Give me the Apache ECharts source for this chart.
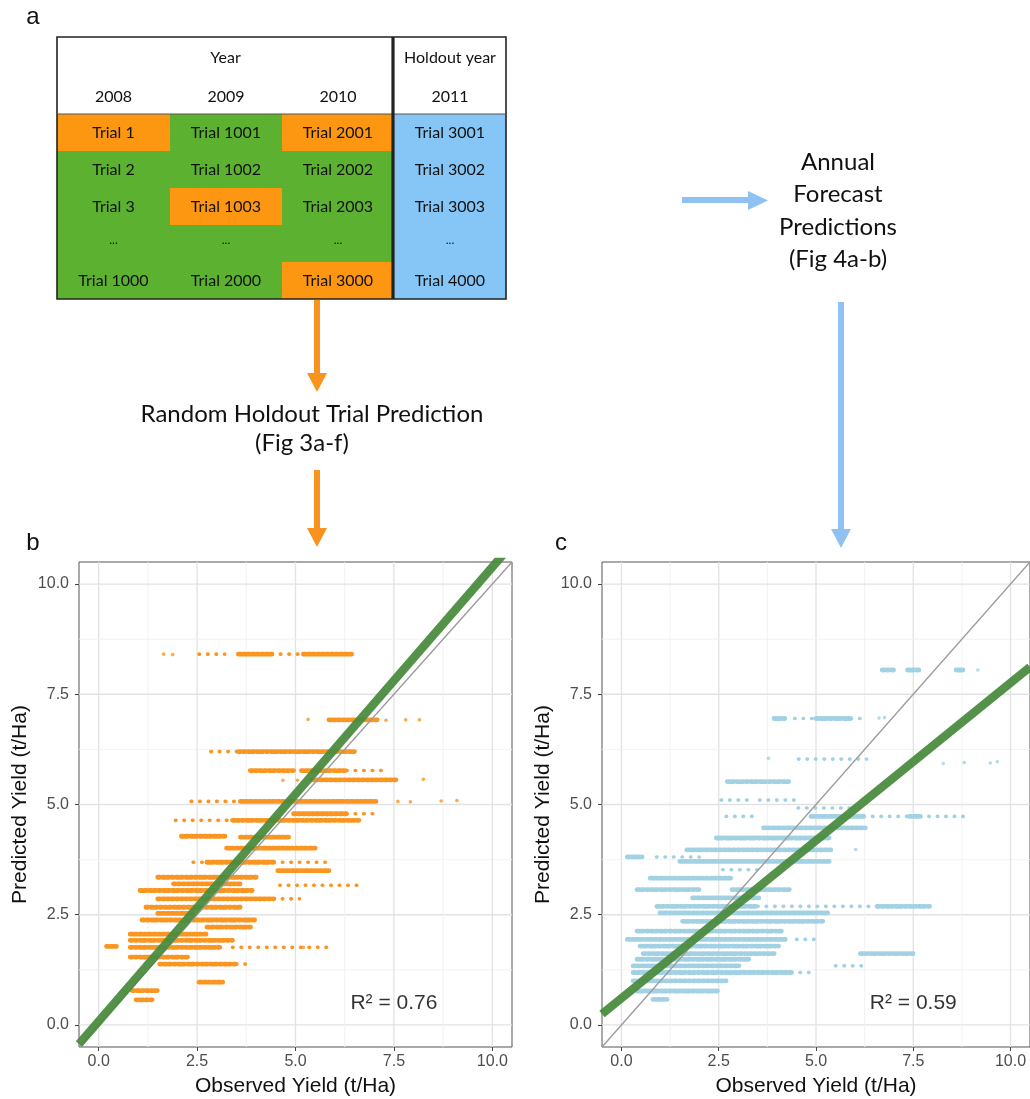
<!DOCTYPE html>
<html>
<head>
<meta charset="utf-8">
<title>Random holdout vs annual forecast predictions</title>
<script src="https://cdn.jsdelivr.net/npm/echarts@6/dist/echarts.min.js"></script>
<style>
html, body { margin: 0; padding: 0; background: #fff; }
#main { width: 1030px; height: 1099px; }
</style>
</head>
<body>
<div id="main"></div>
<script>
// ---- panel a : trial table ----
var yearCols = ['2008', '2009', '2010'];
var holdoutYear = '2011';
var trialRows = [
  ['Trial 1', 'Trial 1001', 'Trial 2001', 'Trial 3001'],
  ['Trial 2', 'Trial 1002', 'Trial 2002', 'Trial 3002'],
  ['Trial 3', 'Trial 1003', 'Trial 2003', 'Trial 3003'],
  ['...', '...', '...', '...'],
  ['Trial 1000', 'Trial 2000', 'Trial 3000', 'Trial 4000']
];
// [row, col] cells picked as random holdout trials
var heldOutCells = [[0, 0], [0, 2], [2, 1], [4, 2]];

// ---- axes ----
var axisTicks = [0, 2.5, 5, 7.5, 10];
var gridTicks = [0, 1.25, 2.5, 3.75, 5, 6.25, 7.5, 8.75, 10];

// ---- panel b : random holdout trial prediction ----
// dense runs of points: [predicted, observed from, observed to]
var holdoutDense = [
  [8.41, 3.55, 4.40], [8.41, 5.20, 6.45],
  [6.92, 5.85, 7.10],
  [6.20, 3.55, 6.50],
  [5.77, 3.85, 4.95], [5.77, 5.15, 6.30],
  [5.56, 5.40, 7.55],
  [5.07, 3.60, 7.10],
  [4.79, 4.95, 6.30],
  [4.64, 3.40, 6.65],
  [4.28, 2.10, 3.25], [4.26, 3.60, 4.85],
  [4.01, 3.25, 5.50],
  [3.69, 2.75, 4.45],
  [3.50, 4.55, 5.85],
  [3.35, 1.50, 4.00],
  [3.20, 1.90, 3.60],
  [3.05, 1.05, 3.90],
  [2.86, 1.50, 4.45],
  [2.67, 1.20, 3.60],
  [2.53, 1.50, 2.40],
  [2.38, 1.10, 4.00],
  [2.22, 2.75, 3.90],
  [2.06, 0.80, 2.75],
  [1.92, 0.80, 3.40],
  [1.76, 0.80, 3.10], [1.78, 0.20, 0.45],
  [1.54, 0.80, 2.30],
  [1.38, 1.55, 3.50],
  [0.97, 2.55, 3.15],
  [0.78, 0.85, 1.50],
  [0.57, 0.95, 1.40]
];
// thinly spread runs: [predicted, observed from, observed to]
var holdoutSparse = [
  [8.41, 2.55, 3.20], [8.41, 4.40, 5.20],
  [6.20, 2.85, 3.55],
  [5.77, 6.30, 7.30],
  [5.07, 2.35, 3.60],
  [4.79, 6.30, 7.10],
  [4.64, 1.95, 3.40],
  [3.69, 2.40, 2.75], [3.69, 4.45, 5.90],
  [3.17, 4.60, 6.65],
  [2.86, 4.45, 5.10],
  [1.76, 3.40, 5.85],
  [1.38, 3.50, 3.75]
];
// isolated points: [observed, predicted]
var holdoutDots = [
  [1.65, 8.41], [1.88, 8.40], [5.32, 6.93], [7.30, 6.91], [7.80, 6.92], [8.15, 6.92],
  [4.68, 5.55], [5.05, 5.55], [8.25, 5.57], [7.60, 5.07], [7.92, 5.06], [8.70, 5.08],
  [9.10, 5.09], [5.20, 1.76]
];
var holdoutFit = [[-0.5, -0.43], [10.5, 10.9]];

// ---- panel c : annual forecast predictions ----
var annualDense = [
  [8.05, 6.70, 7.03], [8.05, 7.35, 7.70], [8.05, 8.60, 8.78],
  [6.95, 3.92, 4.20], [6.95, 5.00, 5.90],
  [5.52, 2.72, 4.30],
  [4.73, 4.87, 6.24], [4.73, 7.40, 7.68],
  [4.47, 3.65, 6.27],
  [4.24, 2.44, 5.38],
  [3.97, 1.68, 5.38],
  [3.81, 0.15, 0.53],
  [3.71, 1.50, 5.38],
  [3.33, 0.74, 2.84],
  [3.07, 0.40, 2.00], [3.07, 2.84, 4.37],
  [2.88, 1.83, 3.53],
  [2.69, 0.91, 3.50], [2.69, 6.57, 7.92],
  [2.54, 0.99, 5.30],
  [2.35, 1.57, 5.23],
  [2.13, 0.40, 4.11],
  [1.94, 0.15, 4.21],
  [1.79, 0.48, 4.04],
  [1.62, 0.56, 3.96], [1.62, 6.14, 7.51],
  [1.49, 0.40, 3.27],
  [1.34, 0.30, 3.02],
  [1.19, 0.30, 4.37],
  [1.00, 0.30, 2.69],
  [0.77, 0.40, 2.51],
  [0.58, 0.81, 1.17]
];
var annualSparse = [
  [6.95, 4.45, 5.00], [6.95, 5.90, 6.25],
  [6.03, 4.55, 6.30],
  [5.10, 2.56, 3.27], [5.10, 3.55, 4.47],
  [4.92, 4.54, 5.99],
  [4.73, 2.69, 3.53], [4.73, 6.45, 7.40], [4.73, 7.68, 8.80],
  [3.81, 0.90, 2.00],
  [3.52, 2.60, 3.50],
  [2.69, 3.50, 6.57],
  [1.94, 4.50, 5.05],
  [1.34, 5.50, 6.25],
  [1.19, 4.37, 4.90]
];
var annualDots = [
  [6.62, 6.96], [6.76, 6.97], [3.78, 6.05], [8.27, 5.93], [8.81, 5.95], [9.48, 5.94],
  [9.66, 5.97], [9.16, 8.05], [6.02, 3.98]
];
var annualFit = [[-0.5, 0.25], [10.5, 8.12]];

var identityLine = [[-0.5, -0.5], [10.5, 10.5]];
var r2Labels = ['R\u00b2 = 0.76', 'R\u00b2 = 0.59'];
var r2At = [7.5, 0.5];

var ORANGE = '#f99520', BLUE = '#a2d1e3', FIT = '#4b8b3f';

var chart = echarts.init(document.getElementById('main'));

function gridLines(params, api) {
  var v = api.value(0);
  var major = v % 2.5 === 0;
  var a = api.coord([v, -0.5]), b = api.coord([v, 10.5]);
  var c = api.coord([-0.5, v]), d = api.coord([10.5, v]);
  var st = { stroke: major ? '#e2e2e2' : '#f0f0f0', lineWidth: major ? 1.3 : 0.9 };
  return {
    type: 'group',
    children: [
      { type: 'line', shape: { x1: a[0], y1: a[1], x2: b[0], y2: b[1] }, style: st },
      { type: 'line', shape: { x1: c[0], y1: c[1], x2: d[0], y2: d[1] }, style: st }
    ]
  };
}

function runs(sparse) {
  return function (params, api) {
    var y = api.value(0);
    var p1 = api.coord([api.value(1), y]), p2 = api.coord([api.value(2), y]);
    return {
      type: 'line',
      shape: { x1: p1[0], y1: p1[1], x2: p2[0], y2: p2[1] },
      style: {
        stroke: api.visual('color'),
        lineWidth: sparse ? 3.6 : 4.8,
        lineCap: 'round',
        lineDash: sparse ? [0.5, 8] : [2.2, 2.4]
      }
    };
  };
}

function xAxisFor(i) {
  return {
    type: 'value', gridIndex: i, min: -0.5, max: 10.5,
    name: 'Observed Yield (t/Ha)', nameLocation: 'middle', nameGap: 29,
    nameTextStyle: { fontFamily: 'Liberation Sans', fontSize: 21, color: '#111' },
    axisLine: { show: false, onZero: false },
    splitLine: { show: false },
    axisTick: { show: true, customValues: axisTicks, length: 4, lineStyle: { color: '#444' } },
    axisLabel: {
      customValues: axisTicks, margin: 7,
      formatter: function (v) { return v.toFixed(1); },
      fontFamily: 'Liberation Sans', fontSize: 16, color: '#4d4d4d'
    }
  };
}
function yAxisFor(i) {
  return {
    type: 'value', gridIndex: i, min: -0.5, max: 10.5,
    name: 'Predicted Yield (t/Ha)', nameLocation: 'middle', nameRotate: 90, nameGap: 48,
    nameTextStyle: { fontFamily: 'Liberation Sans', fontSize: 21, color: '#111' },
    axisLine: { show: false, onZero: false },
    splitLine: { show: false },
    axisTick: { show: true, customValues: axisTicks, length: 4, lineStyle: { color: '#444' } },
    axisLabel: {
      customValues: axisTicks, margin: 10,
      formatter: function (v) { return v.toFixed(1); },
      fontFamily: 'Liberation Sans', fontSize: 16, color: '#4d4d4d'
    }
  };
}

function panelSeries(i, dense, sparse, dots, fit, color, r2) {
  return [
    { type: 'custom', xAxisIndex: i, yAxisIndex: i, data: gridTicks, renderItem: gridLines, z: 1, silent: true },
    { type: 'custom', xAxisIndex: i, yAxisIndex: i, data: dense, renderItem: runs(false),
      encode: { x: [1, 2], y: 0 }, itemStyle: { color: color }, z: 2 },
    { type: 'custom', xAxisIndex: i, yAxisIndex: i, data: sparse, renderItem: runs(true),
      encode: { x: [1, 2], y: 0 }, itemStyle: { color: color }, z: 2 },
    { type: 'scatter', xAxisIndex: i, yAxisIndex: i, data: dots, symbolSize: 3.6,
      itemStyle: { color: color }, z: 2 },
    { type: 'line', xAxisIndex: i, yAxisIndex: i, data: identityLine, symbol: 'none',
      lineStyle: { color: '#9a9a9a', width: 1.3 }, z: 3 },
    { type: 'line', xAxisIndex: i, yAxisIndex: i, data: fit, symbol: 'none',
      lineStyle: { color: FIT, width: 8.5, opacity: 0.95 }, z: 4 },
    { type: 'scatter', xAxisIndex: i, yAxisIndex: i, data: [r2At], symbolSize: 0, z: 5,
      label: { show: true, position: 'inside', formatter: r2,
        fontFamily: 'Liberation Sans', fontSize: 21, color: '#000' } }
  ];
}

// table drawing with graphic elements
var colX = [57, 170, 282, 394, 506];
var headTop = 37, bodyTop = 114, rowH = 37;
var TBL_GREEN = '#5cb130', TBL_ORANGE = '#fd9611', TBL_BLUE = '#86c6f6';
var tableFont = 'Lato';

function isHeld(r, c) {
  return heldOutCells.some(function (p) { return p[0] === r && p[1] === c; });
}

var graphics = [];
trialRows.forEach(function (row, r) {
  row.forEach(function (label, c) {
    var fill = c === 3 ? TBL_BLUE : (isHeld(r, c) ? TBL_ORANGE : TBL_GREEN);
    graphics.push({
      type: 'rect', shape: { x: colX[c], y: bodyTop + r * rowH, width: colX[c + 1] - colX[c], height: rowH },
      style: { fill: fill }, silent: true
    });
    graphics.push({
      type: 'text', x: (colX[c] + colX[c + 1]) / 2, y: bodyTop + r * rowH + rowH / 2 + (label === '...' ? -3 : 0),
      style: { text: label, fill: '#111', font: (label === '...' ? '12px ' : '16px ') + tableFont,
        textAlign: 'center', textVerticalAlign: 'middle' }, silent: true
    });
  });
});
graphics.push({ type: 'text', x: (colX[0] + colX[3]) / 2, y: 58,
  style: { text: 'Year', fill: '#111', font: '16px ' + tableFont, textAlign: 'center', textVerticalAlign: 'middle' } });
graphics.push({ type: 'text', x: (colX[3] + colX[4]) / 2, y: 58,
  style: { text: 'Holdout year', fill: '#111', font: '16px ' + tableFont, textAlign: 'center', textVerticalAlign: 'middle' } });
yearCols.concat([holdoutYear]).forEach(function (yr, c) {
  graphics.push({ type: 'text', x: (colX[c] + colX[c + 1]) / 2, y: 97,
    style: { text: yr, fill: '#111', font: '16px ' + tableFont, textAlign: 'center', textVerticalAlign: 'middle' } });
});
var tableBottom = bodyTop + trialRows.length * rowH;
graphics.push({ type: 'rect', shape: { x: colX[0], y: headTop, width: colX[4] - colX[0], height: tableBottom - headTop },
  style: { fill: null, stroke: '#222', lineWidth: 1.6 }, silent: true });
graphics.push({ type: 'line', shape: { x1: colX[0], y1: bodyTop, x2: colX[4], y2: bodyTop },
  style: { stroke: '#555', lineWidth: 1 }, silent: true });
graphics.push({ type: 'line', shape: { x1: colX[3] - 1, y1: headTop, x2: colX[3] - 1, y2: tableBottom },
  style: { stroke: '#222', lineWidth: 3.2 }, silent: true });

// arrows and captions
var ARROW_ORANGE = '#f7931e', ARROW_BLUE = '#8fc2f3';
function vArrow(x, y1, y2, color) {
  graphics.push({ type: 'rect', shape: { x: x - 3, y: y1, width: 6, height: y2 - y1 - 17 }, style: { fill: color }, silent: true });
  graphics.push({ type: 'polygon', shape: { points: [[x - 10, y2 - 19], [x + 10, y2 - 19], [x, y2]] }, style: { fill: color }, silent: true });
}
vArrow(317, tableBottom + 1, 392, ARROW_ORANGE);
vArrow(317, 470, 547, ARROW_ORANGE);
vArrow(841, 302, 548, ARROW_BLUE);
graphics.push({ type: 'rect', shape: { x: 682, y: 197, width: 68, height: 6 }, style: { fill: ARROW_BLUE }, silent: true });
graphics.push({ type: 'polygon', shape: { points: [[748, 191], [748, 210], [768, 200.5]] }, style: { fill: ARROW_BLUE }, silent: true });

function caption(text, x, y) {
  graphics.push({ type: 'text', x: x, y: y,
    style: { text: text, fill: '#111', font: '24px ' + tableFont, textAlign: 'center', textVerticalAlign: 'middle' }, silent: true });
}
caption('Random Holdout Trial Prediction', 312, 414);
caption('(Fig 3a-f)', 302, 443);
['Annual', 'Forecast', 'Predictions', '(Fig 4a-b)'].forEach(function (t, k) {
  caption(t, 838, 162 + k * 32.5);
});

[['a', 33, 17], ['b', 33, 543], ['c', 561, 543]].forEach(function (p) {
  graphics.push({ type: 'text', x: p[1], y: p[2],
    style: { text: p[0], fill: '#111', font: '24px Liberation Sans', textAlign: 'center', textVerticalAlign: 'middle' }, silent: true });
});

var option = {
  animation: false,
  backgroundColor: '#fff',
  grid: [
    { left: 79, top: 562, width: 433, height: 485, show: true, borderColor: '#555', borderWidth: 1, backgroundColor: '#fff' },
    { left: 602, top: 562, width: 433, height: 485, show: true, borderColor: '#555', borderWidth: 1, backgroundColor: '#fff' }
  ],
  xAxis: [xAxisFor(0), xAxisFor(1)],
  yAxis: [yAxisFor(0), yAxisFor(1)],
  graphic: graphics,
  series: panelSeries(0, holdoutDense, holdoutSparse, holdoutDots, holdoutFit, ORANGE, r2Labels[0])
    .concat(panelSeries(1, annualDense, annualSparse, annualDots, annualFit, BLUE, r2Labels[1]))
};
chart.setOption(option);
</script>
</body>
</html>
